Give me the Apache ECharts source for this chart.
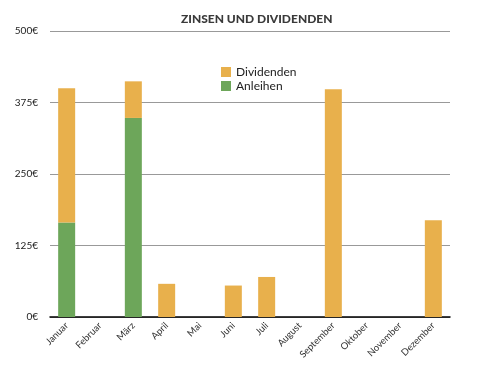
<!DOCTYPE html>
<html><head><meta charset="utf-8">
<script src="https://cdn.jsdelivr.net/npm/echarts@6/dist/echarts.min.js"></script>
<style>html,body{margin:0;padding:0;background:#fff}#c{width:486px;height:369px}</style>
</head><body><div id="c"></div>
<script>
const months = ['Januar','Februar','März','April','Mai','Juni','Juli','August','September','Oktober','November','Dezember'];
const anleihen = [165, 0, 348, 0, 0, 0, 0, 0, 0, 0, 0, 0];
const dividenden = [235, 0, 64, 58, 0, 55, 70, 0, 398, 0, 0, 169];
const yTicks = [0, 125, 250, 375, 500];
const font = 'Lato, "Open Sans", sans-serif';
const chart = echarts.init(document.getElementById('c'));
chart.setOption({
  animation: false,
  title: {text: 'ZINSEN UND DIVIDENDEN', left: 176, top: 8,
    textStyle: {fontFamily: font, fontSize: 12, fontWeight: 900, color: '#3a3a3a'}},
  legend: {left: 216, top: 61, orient: 'vertical', itemWidth: 10, itemHeight: 10, itemGap: 2,
    icon: 'rect', textStyle: {fontFamily: font, fontSize: 12, color: '#222'},
    data: ['Dividenden', 'Anleihen']},
  grid: {left: 50, right: 36, top: 31, bottom: 52},
  xAxis: {type: 'category', data: months,
    axisLine: {lineStyle: {color: '#000', width: 1.5}}, axisTick: {show: false},
    axisLabel: {rotate: 45, fontFamily: font, fontSize: 9.5, color: '#333', interval: 0, margin: 7}},
  yAxis: {type: 'value', min: 0, max: 500, interval: 125,
    axisLine: {show: false}, axisTick: {show: false},
    splitLine: {lineStyle: {color: '#999', width: 1}},
    axisLabel: {fontFamily: font, fontSize: 10, color: '#222', margin: 12,
      formatter: v => yTicks.includes(v) ? v + '€' : ''}},
  series: [
    {name: 'Anleihen', type: 'bar', stack: 's', data: anleihen, barWidth: 17,
      itemStyle: {color: '#6da65a'}},
    {name: 'Dividenden', type: 'bar', stack: 's', data: dividenden, barWidth: 17,
      itemStyle: {color: '#e8b04c'}}
  ]
});
</script></body></html>
